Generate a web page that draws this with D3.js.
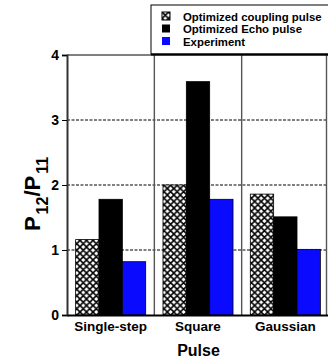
<!DOCTYPE html>
<html>
<head>
<meta charset="utf-8">
<script src="https://cdn.jsdelivr.net/npm/d3@7"></script>
<style>
  html, body { margin: 0; padding: 0; background: #fff; }
  svg { display: block; font-family: "Liberation Sans", Arial, sans-serif; }
</style>
</head>
<body>
<svg id="chart" width="328" height="358"></svg>
<script>
// Pulse shapes on the x axis
const categories = ["Single-step", "Square", "Gaussian"];
// One entry per series, values in category order
const seriesNames = ["Optimized coupling pulse", "Optimized Echo pulse", "Experiment"];
const couplingValues = [1.16, 2.0, 1.86];
const echoValues = [1.78, 3.59, 1.51];
const experimentValues = [0.82, 1.78, 1.01];
const yTicks = [0, 1, 2, 3, 4];
const gridValues = [1, 2, 3];

const seriesValues = [couplingValues, echoValues, experimentValues];

const svg = d3.select("#chart");
const margin = { left: 67, right: -1, top: 55, bottom: 43 };
const W = 328, H = 358;

// Hatched fill for the coupling-pulse series
const defs = svg.append("defs");
const pat = defs.append("pattern")
  .attr("id", "xhatch")
  .attr("patternUnits", "userSpaceOnUse")
  .attr("width", 6.5).attr("height", 6.5);
pat.append("rect").attr("width", 6.5).attr("height", 6.5).attr("fill", "#fff");
pat.append("path")
  .attr("d", "M0,0 L6.5,6.5 M6.5,0 L0,6.5 M-1,5.5 L1,7.5 M5.5,-1 L7.5,1 M-1,1 L1,-1 M5.5,7.5 L7.5,5.5")
  .attr("stroke", "#000").attr("stroke-width", 1.6);

const fills = ["url(#xhatch)", "#000", "#0a0aff"];

const x = d3.scaleBand()
  .domain(categories)
  .range([margin.left, W - margin.right])
  .paddingInner(0).paddingOuter(0);

const xInner = d3.scaleBand()
  .domain(d3.range(seriesNames.length))
  .range([0, x.bandwidth()])
  .paddingInner(0).paddingOuter(0.37);

const y = d3.scaleLinear().domain([0, 4]).range([H - margin.bottom, margin.top]);

// Dashed horizontal gridlines
svg.append("g").selectAll("line").data(gridValues).join("line")
  .attr("x1", margin.left).attr("x2", W)
  .attr("y1", d => y(d)).attr("y2", d => y(d))
  .attr("stroke", "#000").attr("stroke-width", 1)
  .attr("stroke-dasharray", "3,1.5");

// Vertical separators between pulse groups
svg.append("g").selectAll("line").data(categories.slice(1).concat(["end"])).join("line")
  .attr("x1", (d, i) => i < 2 ? x(d) : W - 1.5)
  .attr("x2", (d, i) => i < 2 ? x(d) : W - 1.5)
  .attr("y1", y(4)).attr("y2", y(0))
  .attr("stroke", "#555").attr("stroke-width", 1.4);

// Bars
const groups = svg.append("g").selectAll("g").data(categories).join("g")
  .attr("transform", d => `translate(${x(d)},0)`);

groups.selectAll("rect")
  .data((c, ci) => seriesValues.map((vals, si) => ({ si, v: vals[ci] })))
  .join("rect")
  .attr("x", d => xInner(d.si))
  .attr("width", xInner.bandwidth())
  .attr("y", d => y(d.v))
  .attr("height", d => y(0) - y(d.v))
  .attr("fill", d => fills[d.si])
  .attr("stroke", "#000")
  .attr("stroke-width", 0.8);

// Top frame line
svg.append("line")
  .attr("x1", margin.left).attr("x2", W)
  .attr("y1", y(4)).attr("y2", y(4))
  .attr("stroke", "#000").attr("stroke-width", 1);

// Left axis
const yAxis = d3.axisLeft(y).tickValues(yTicks).tickSize(5).tickFormat(d3.format("d"));
const gy = svg.append("g").attr("transform", `translate(${margin.left},0)`).call(yAxis);
gy.select(".domain").attr("stroke", "#333").attr("stroke-width", 2);
gy.selectAll(".tick line").attr("stroke", "#000");
gy.selectAll(".tick text")
  .attr("font-size", 14).attr("font-weight", "bold")
  .attr("font-family", "Liberation Sans, Arial, sans-serif")
  .attr("fill", "#000").attr("x", -8);

// Bottom axis
const xAxis = d3.axisBottom(x).tickSize(0).tickPadding(6);
const gx = svg.append("g").attr("transform", `translate(0,${y(0)})`).call(xAxis);
gx.select(".domain").attr("stroke", "#000").attr("stroke-width", 2);
gx.selectAll(".tick text")
  .attr("font-size", 13.5).attr("font-weight", "bold")
  .attr("font-family", "Liberation Sans, Arial, sans-serif")
  .attr("fill", "#000");

// Axis titles
svg.append("text")
  .attr("x", (margin.left + W) / 2 + 1).attr("y", 356)
  .attr("text-anchor", "middle")
  .attr("font-size", 16).attr("font-weight", "bold")
  .text("Pulse");

const yt = svg.append("text")
  .attr("transform", "translate(40,194) rotate(-90)")
  .attr("text-anchor", "middle")
  .attr("font-size", 22).attr("font-weight", "bold");
yt.append("tspan").text("P");
yt.append("tspan").attr("font-size", 16).attr("dx", 2).attr("dy", 8).text("12");
yt.append("tspan").attr("dy", -8).text("/P");
yt.append("tspan").attr("font-size", 16).attr("dx", 2).attr("dy", 8).text("11");

// Legend
const lg = svg.append("g");
lg.append("rect")
  .attr("x", 151).attr("y", 5).attr("width", 190).attr("height", 49)
  .attr("fill", "#fff").attr("stroke", "#000").attr("stroke-width", 1);
lg.append("line")
  .attr("x1", 151).attr("x2", W).attr("y1", 54.5).attr("y2", 54.5)
  .attr("stroke", "#000").attr("stroke-width", 2);
const items = lg.selectAll("g.item").data(seriesNames).join("g")
  .attr("class", "item")
  .attr("transform", (d, i) => `translate(162,${12 + i * 12.5})`);
items.append("rect")
  .attr("width", 8).attr("height", 8)
  .attr("fill", (d, i) => fills[i])
  .attr("stroke", (d, i) => i === 0 ? "#000" : "none");
items.append("text")
  .attr("x", 21).attr("y", 8.5)
  .attr("font-size", 11.4).attr("font-weight", "bold")
  .text(d => d);
</script>
</body>
</html>
